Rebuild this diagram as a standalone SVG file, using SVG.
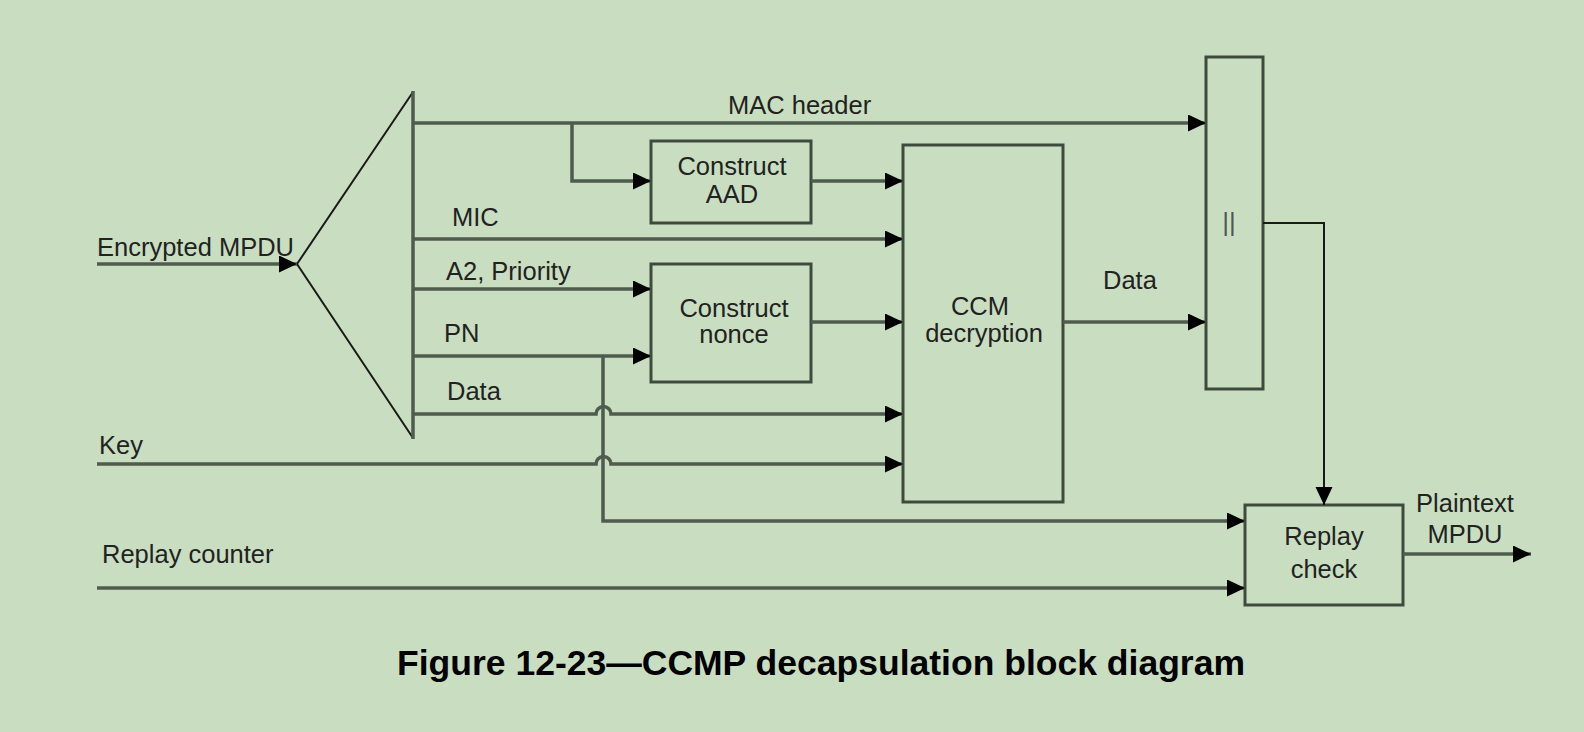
<svg xmlns="http://www.w3.org/2000/svg" width="1584" height="732" viewBox="0 0 1584 732">
<style>
.t{font-family:"Liberation Sans",Arial,sans-serif;font-size:25.5px;fill:#222}
.c{text-anchor:middle}
.box{fill:none;stroke:#3f4a3f;stroke-width:3}
.ln{fill:none;stroke:#4f5b4f;stroke-width:3.5}
.thin{fill:none;stroke:#1a1a1a;stroke-width:2}
</style>
<defs>
<marker id="ah" markerUnits="userSpaceOnUse" markerWidth="19" markerHeight="18" refX="18" refY="8.5" orient="auto">
<path d="M0,0 L18,8.5 L0,17 z" fill="#000"/>
</marker>
</defs>
<rect width="1584" height="732" fill="#c9dec0"/>

<g id="splitter">
<polyline points="413,92 297,264 413,438" class="thin" stroke="#222"/>
<line x1="413" y1="91" x2="413" y2="439" class="ln"/>
</g>

<g id="construct-aad">
<rect x="651" y="141" width="160" height="82" class="box"/>
<text x="732" y="175" class="t c">Construct</text>
<text x="732" y="203" class="t c">AAD</text>
</g>

<g id="construct-nonce">
<rect x="651" y="264" width="160" height="118" class="box"/>
<text x="734" y="317" class="t c">Construct</text>
<text x="734" y="343" class="t c">nonce</text>
</g>

<g id="ccm-decryption">
<rect x="903" y="145" width="160" height="357" class="box"/>
<text x="980" y="315" class="t c">CCM</text>
<text x="984" y="342" class="t c">decryption</text>
</g>

<g id="concat">
<rect x="1206" y="57" width="57" height="332" class="box"/>
<text x="1229" y="231" class="t c" style="fill:#555;font-size:26px">||</text>
</g>

<g id="replay-check">
<rect x="1245" y="505" width="158" height="100" class="box"/>
<text x="1324" y="545" class="t c">Replay</text>
<text x="1324" y="578" class="t c">check</text>
</g>

<g id="connectors">
<line x1="97" y1="264" x2="297" y2="264" class="ln" marker-end="url(#ah)"/>
<line x1="413" y1="123" x2="1206" y2="123" class="ln" marker-end="url(#ah)"/>
<polyline points="572,123 572,181 651,181" class="ln" marker-end="url(#ah)"/>
<line x1="811" y1="181" x2="903" y2="181" class="ln" marker-end="url(#ah)"/>
<line x1="413" y1="239" x2="903" y2="239" class="ln" marker-end="url(#ah)"/>
<line x1="413" y1="289" x2="651" y2="289" class="ln" marker-end="url(#ah)"/>
<line x1="413" y1="356" x2="651" y2="356" class="ln" marker-end="url(#ah)"/>
<line x1="811" y1="322" x2="903" y2="322" class="ln" marker-end="url(#ah)"/>
<path d="M413,414 L596,414 A7.5,7.5 0 0 1 611,414 L903,414" class="ln" marker-end="url(#ah)"/>
<path d="M97,464 L596,464 A7.5,7.5 0 0 1 611,464 L903,464" class="ln" marker-end="url(#ah)"/>
<polyline points="603,356 603,521 1245,521" class="ln" marker-end="url(#ah)"/>
<line x1="97" y1="588" x2="1245" y2="588" class="ln" marker-end="url(#ah)"/>
<line x1="1063" y1="322" x2="1206" y2="322" class="ln" marker-end="url(#ah)"/>
<polyline points="1263,223 1324,223 1324,505" class="thin" marker-end="url(#ah)"/>
<line x1="1403" y1="554" x2="1531" y2="554" class="ln" marker-end="url(#ah)"/>
</g>

<g id="labels">
<text x="97" y="256" class="t">Encrypted MPDU</text>
<text x="728" y="114" class="t">MAC header</text>
<text x="452" y="226" class="t">MIC</text>
<text x="446" y="280" class="t">A2, Priority</text>
<text x="444" y="342" class="t">PN</text>
<text x="447" y="400" class="t">Data</text>
<text x="99" y="454" class="t">Key</text>
<text x="102" y="563" class="t">Replay counter</text>
<text x="1103" y="289" class="t">Data</text>
<text x="1465" y="512" class="t c">Plaintext</text>
<text x="1465" y="543" class="t c">MPDU</text>
</g>

<text x="821" y="675" style="font-family:'Liberation Sans',Arial,sans-serif;font-size:35px;font-weight:bold;fill:#000" text-anchor="middle" textLength="848" lengthAdjust="spacingAndGlyphs">Figure 12-23—CCMP decapsulation block diagram</text>
</svg>
